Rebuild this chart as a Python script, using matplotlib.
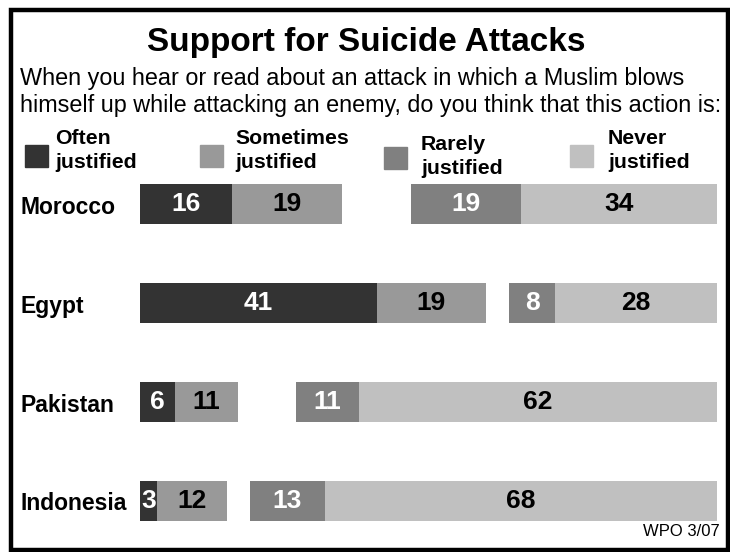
import matplotlib
matplotlib.use('Agg')
import matplotlib.pyplot as plt
import numpy as np
from matplotlib.patches import Rectangle

plt.rcParams['font.family'] = ['Liberation Sans', 'DejaVu Sans']

countries = ['Morocco', 'Egypt', 'Pakistan', 'Indonesia']
often = [16, 41, 6, 3]
sometimes = [19, 19, 11, 12]
rarely = [19, 8, 11, 13]
never = [34, 28, 62, 68]

series_names = ['Often\njustified', 'Sometimes\njustified', 'Rarely\njustified', 'Never\njustified']
colors = ['#333333', '#999999', '#808080', '#c0c0c0']
text_colors = ['white', 'black', 'white', 'black']

W, H = 730, 552
fig = plt.figure(figsize=(W / 100, H / 100), dpi=100)


def fx(x):
    return x / W


def fy(y):
    return 1 - y / H


# bar area: x 140..717 px -> 0..100, bar centers every 99 px starting at 204
ax = fig.add_axes([fx(140), fy(545), (717 - 140) / W, (545 - 160) / H])
ax.set_xlim(0, 100)
ax.set_ylim(3 + 44 / 99, -44 / 99)
ax.axis('off')

y = np.arange(len(countries))
h = 0.40
left_often = np.zeros(len(countries))
left_some = np.array(often)
left_rarely = 100 - (np.array(rarely) + np.array(never))
left_never = 100 - np.array(never)

stacks = [(often, left_often), (sometimes, left_some), (rarely, left_rarely), (never, left_never)]
for i, (vals, lefts) in enumerate(stacks):
    ax.barh(y, vals, left=lefts, height=h, color=colors[i], edgecolor='none')
    for yi, v, l in zip(y, vals, lefts):
        ax.text(l + v / 2, yi, str(v), ha='center', va='center',
                color=text_colors[i], fontsize=19, fontweight='bold')

for yi, name in zip(y, countries):
    fig.text(fx(20), fy(204 + 99 * yi + 3), name, ha='left', va='center',
             fontsize=16.5, fontweight='bold')

# title and question
fig.text(fx(366), fy(43), 'Support for Suicide Attacks', ha='center', va='center',
         fontsize=24, fontweight='bold')
fig.text(fx(20), fy(79), 'When you hear or read about an attack in which a Muslim blows',
         ha='left', va='center', fontsize=16.8)
fig.text(fx(20), fy(105), 'himself up while attacking an enemy, do you think that this action is:',
         ha='left', va='center', fontsize=16.8)

# legend
leg_sq_x = [25, 200, 384, 570]
leg_sq_y = [145, 145, 147, 145]
leg_txt_x = [55, 235, 421, 608]
leg_txt_y = [129, 129, 135, 129]
for i in range(4):
    fig.patches.append(Rectangle((fx(leg_sq_x[i]), fy(leg_sq_y[i] + 22)), 23 / W, 22 / H,
                                 transform=fig.transFigure, color=colors[i]))
    fig.text(fx(leg_txt_x[i]), fy(leg_txt_y[i]), series_names[i], ha='left', va='top',
             fontsize=15.3, fontweight='bold', linespacing=1.35)

fig.text(fx(720), fy(536), 'WPO 3/07', ha='right', va='baseline', fontsize=12)

# frame
fig.patches.append(Rectangle((fx(10.5), fy(549.5)), (727.5 - 10.5) / W, (549.5 - 10) / H,
                             transform=fig.transFigure, fill=False, edgecolor='black', linewidth=3.2))

fig.savefig('out.png', dpi=100)
